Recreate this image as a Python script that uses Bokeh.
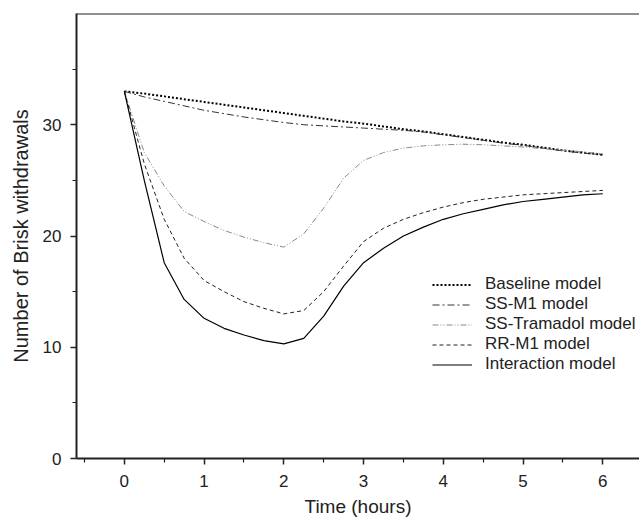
from bokeh.plotting import figure
from bokeh.models import FixedTicker, Legend, LegendItem, Span, Range1d
from bokeh.embed import file_html
from bokeh.resources import INLINE

time_h = [0, 0.25, 0.5, 0.75, 1, 1.25, 1.5, 1.75, 2, 2.25, 2.5, 2.75, 3,
          3.25, 3.5, 3.75, 4, 4.25, 4.5, 4.75, 5, 5.25, 5.5, 5.75, 6]

baseline = [33.0, 32.8, 32.55, 32.3, 32.05, 31.8, 31.55, 31.3, 31.05, 30.8, 30.55, 30.3, 30.1,
            29.85, 29.6, 29.4, 29.15, 28.9, 28.65, 28.4, 28.2, 27.95, 27.7, 27.5, 27.3]
ss_m1 = [33.0, 32.5, 32.1, 31.7, 31.3, 31.0, 30.7, 30.45, 30.2, 30.0, 29.9, 29.8, 29.7,
         29.6, 29.5, 29.35, 29.1, 28.85, 28.6, 28.35, 28.15, 27.9, 27.65, 27.45, 27.3]
ss_tramadol = [33.0, 27.5, 24.5, 22.2, 21.3, 20.5, 19.9, 19.4, 19.0, 20.2, 22.5, 25.2, 26.8,
               27.5, 27.9, 28.1, 28.2, 28.25, 28.2, 28.1, 28.0, 27.85, 27.7, 27.55, 27.4]
rr_m1 = [33.0, 26.5, 21.5, 18.0, 16.0, 15.0, 14.1, 13.5, 13.0, 13.3, 15.0, 17.3, 19.5,
         20.7, 21.5, 22.1, 22.6, 23.0, 23.3, 23.5, 23.7, 23.8, 23.9, 24.0, 24.1]
interaction = [33.0, 25.0, 17.6, 14.3, 12.6, 11.7, 11.1, 10.6, 10.3, 10.8, 12.8, 15.5, 17.6,
               18.9, 20.0, 20.8, 21.5, 22.0, 22.4, 22.8, 23.1, 23.3, 23.5, 23.7, 23.8]

series_names = ["Baseline model", "SS-M1 model", "SS-Tramadol model", "RR-M1 model", "Interaction model"]
x_ticks = [0, 1, 2, 3, 4, 5, 6]
x_minor = [-0.5, 0.5, 1.5, 2.5, 3.5, 4.5, 5.5]
y_ticks = [0, 10, 20, 30]
y_minor = [5, 15, 25, 35]

FONT = "Liberation Sans"

p = figure(width=639, height=519, output_backend="svg", toolbar_location=None,
           x_range=Range1d(-0.6, 6.46), y_range=Range1d(0, 40),
           min_border_left=76, min_border_right=0, min_border_top=13, min_border_bottom=60)
p.outline_line_color = None
p.grid.visible = False
p.background_fill_color = "white"

styles = [
    dict(color="#000000", width=2, dash="2 2"),
    dict(color="#333333", width=1, dash="7 3 2 3"),
    dict(color="#888888", width=1, dash="6 2 1 2 1 2"),
    dict(color="#222222", width=1, dash="4 3"),
    dict(color="#000000", width=1.2, dash="solid"),
]
data = [baseline, ss_m1, ss_tramadol, rr_m1, interaction]
renderers = []
for ys, st in zip(data, styles):
    r = p.line(time_h, ys, line_color=st["color"], line_width=st["width"], line_dash=st["dash"])
    renderers.append(r)

top = Span(location=40, dimension="width", line_color="#222222", line_width=2)
p.add_layout(top)

for ax in (p.xaxis[0], p.yaxis[0]):
    ax.axis_line_width = 2
    ax.axis_line_color = "#222222"
    ax.major_tick_line_color = "#222222"
    ax.minor_tick_line_color = "#222222"
    ax.major_tick_line_width = 1.5
    ax.minor_tick_line_width = 1.2
    ax.major_tick_out = 6
    ax.major_tick_in = 0
    ax.minor_tick_out = 4
    ax.minor_tick_in = 0
    ax.major_label_text_font = FONT
    ax.major_label_text_font_size = "17px"
    ax.major_label_text_color = "#222222"
    ax.axis_label_text_font = FONT
    ax.axis_label_text_font_style = "normal"
    ax.axis_label_text_color = "#222222"

p.xaxis.ticker = FixedTicker(ticks=x_ticks, minor_ticks=x_minor)
p.yaxis.ticker = FixedTicker(ticks=y_ticks, minor_ticks=y_minor)
p.xaxis.axis_label = "Time (hours)"
p.yaxis.axis_label = "Number of Brisk withdrawals"
p.xaxis.axis_label_text_font_size = "19px"
p.yaxis.axis_label_text_font_size = "20px"
p.xaxis.major_label_standoff = 10
p.yaxis.major_label_standoff = 9
p.xaxis.axis_label_standoff = 6
p.yaxis.axis_label_standoff = 8

legend = Legend(items=[LegendItem(label=n, renderers=[r]) for n, r in zip(series_names, renderers)],
                location=(356, 84), border_line_color=None, background_fill_alpha=0,
                padding=0, margin=0, spacing=0, glyph_width=40, glyph_height=19,
                label_height=19, label_standoff=13,
                label_text_font=FONT, label_text_font_size="17px", label_text_color="#222222")
p.add_layout(legend)

open("out.html", "w").write(file_html(p, INLINE))
